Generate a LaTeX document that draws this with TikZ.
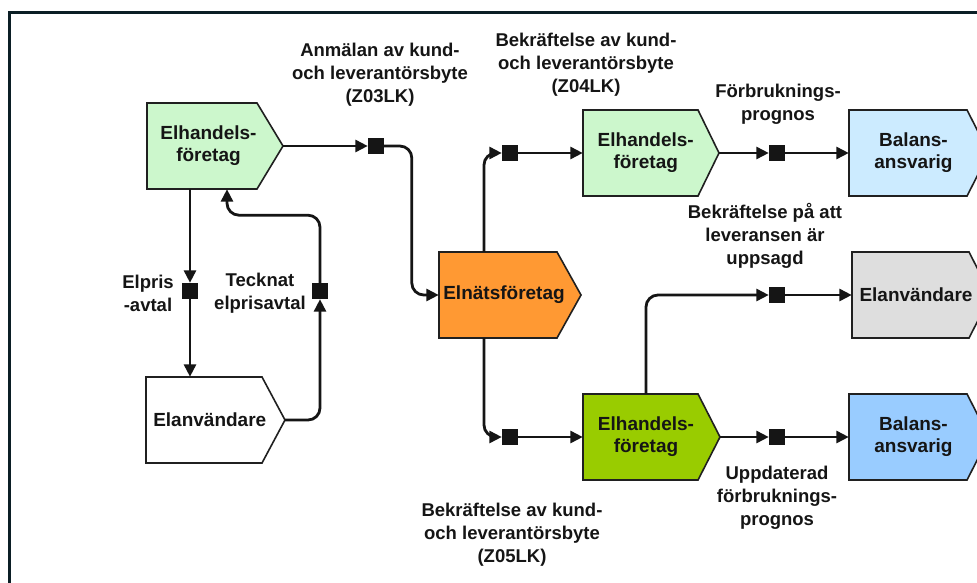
\documentclass[tikz,border=0pt]{standalone}
\usepackage{fontspec}
\setmainfont{Liberation Sans}
\usetikzlibrary{arrows.meta}

\definecolor{ink}{HTML}{151515}
\definecolor{edge}{HTML}{202020}
\definecolor{framecol}{HTML}{0B1E25}
\definecolor{mint}{HTML}{CCF7CC}
\definecolor{netorange}{HTML}{FF9933}
\definecolor{leafgreen}{HTML}{99CC00}
\definecolor{paleblue}{HTML}{CCEBFF}
\definecolor{skyblue}{HTML}{99CCFF}
\definecolor{palegrey}{HTML}{DEDEDE}

% #1 name, #2 left x, #3 top y, #4 body width, #5 tip depth, #6 fill, #7 text
\newcommand\procbox[7]{%
  \filldraw[line width=1.6pt, draw=edge, fill=#6]
    (#2,#3) -- (#2+#4,#3) -- (#2+#4+#5,#3+43) -- (#2+#4,#3+86) -- (#2,#3+86) -- cycle;
  \node[body, minimum width={#4pt+0.5*#5pt}] (#1) at (#2+#4/2+#5/4,#3+43) {#7};
  \coordinate (#1-tip) at (#2+#4+#5,#3+43);
}

\begin{document}
\begin{tikzpicture}[x=1pt,y=-1pt,
  conn/.style={line width=2.8pt, draw=ink, -{Triangle[length=12.5pt,width=12pt]}},
  roundbend/.style={rounded corners=12pt},
  msg/.style={fill=ink, minimum size=16pt, inner sep=0pt},
  lbl/.style={font=\bfseries\fontsize{18.5}{23}\selectfont, align=center, text=ink, inner sep=0pt},
  body/.style={font=\bfseries\fontsize{19}{22}\selectfont, align=center, text=ink, inner sep=0pt, minimum height=86pt},
]
\useasboundingbox (0,0) rectangle (977,583);
\fill[white] (0,0) rectangle (977,583);

% outer frame
\draw[line width=3pt, draw=framecol] (9,590) -- (9,12.5) -- (990,12.5);

% process boxes
\procbox{e1}{147}{103}{110}{26}{mint}{Elhandels-\\företag}
\procbox{u1}{146}{377}{116}{23}{white}{Elanvändare}
\procbox{net}{439}{252}{118}{24}{netorange}{Elnätsföretag}
\procbox{e2}{583}{110}{115}{21}{mint}{Elhandels-\\företag}
\procbox{e3}{583}{394}{115}{22}{leafgreen}{Elhandels-\\företag}
\procbox{b1}{849}{110}{118}{22}{paleblue}{Balans-\\ansvarig}
\procbox{u2}{852}{252}{117}{22}{palegrey}{Elanvändare}
\procbox{b2}{849}{394}{118}{22}{skyblue}{Balans-\\ansvarig}

% message markers
\node[msg] (s1) at (376,146) {};
\node[msg] (s2) at (510,153) {};
\node[msg] (s3) at (510,437) {};
\node[msg] (s4) at (777,153) {};
\node[msg] (s5) at (777,295) {};
\node[msg] (s6) at (777,437) {};
\node[msg] (s7) at (190,291) {};
\node[msg] (s8) at (320,291) {};

% connectors
\draw[conn] (e1-tip) -- (s1.west);
\draw[conn, roundbend] (s1.east) -| ([xshift=-27pt]net.west) -- (net.west);

\draw[conn, roundbend] ([xshift=-20pt]net.north) |- (s2.west);
\draw[conn] (s2.east) -- (e2.west);
\draw[conn, roundbend] ([xshift=-20pt]net.south) |- (s3.west);
\draw[conn] (s3.east) -- (e3.west);

\draw[conn] (e2-tip) -- (s4.west);
\draw[conn] (s4.east) -- (b1.west);
\draw[conn, roundbend] (e3.north) |- (s5.west);
\draw[conn] (s5.east) -- (u2.west);
\draw[conn] (e3-tip) -- (s6.west);
\draw[conn] (s6.east) -- (b2.west);

\draw[conn] (e1.south -| s7) -- (s7.north);
\draw[conn] (s7.south) -- (s7 |- u1.north);
\draw[conn, roundbend] (u1-tip) -| (s8.south);
\draw[conn, roundbend] (s8.north) |- ([xshift=18.5pt, yshift=-26pt]e1.south) -- ([xshift=18.5pt]e1.south);

% message labels
\node[lbl] (l1) at (380,75) {Anmälan av kund-\\och leverantörsbyte\\(Z03LK)};
\node[lbl] (l2) at (586,65) {Bekräftelse av kund-\\och leverantörsbyte\\(Z04LK)};
\node[lbl] (l3) at (778,104) {Förbruknings-\\prognos};
\node[lbl] (l4) at (765,236) {Bekräftelse på att\\leveransen är\\uppsagd};
\node[lbl] (l5) at (777,498) {Uppdaterad\\förbruknings-\\prognos};
\node[lbl] (l6) at (512,535) {Bekräftelse av kund-\\och leverantörsbyte\\(Z05LK)};
\node[lbl] (l7) at (148,293) {Elpris\\-avtal};
\node[lbl] (l8) at (260,293) {Tecknat\\elprisavtal};
\end{tikzpicture}
\end{document}
